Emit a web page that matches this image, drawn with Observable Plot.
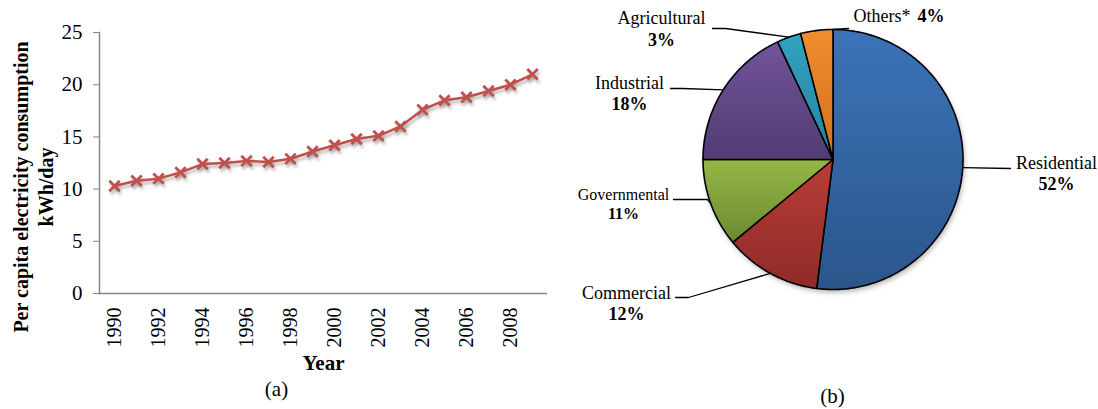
<!DOCTYPE html>
<html><head><meta charset="utf-8">
<script src="https://cdn.jsdelivr.net/npm/d3@7"></script>
<script src="https://cdn.jsdelivr.net/npm/@observablehq/plot@0.6"></script>
<style>
html,body{margin:0;padding:0;background:#fff;}
#wrap{position:relative;width:1098px;height:409px;overflow:hidden;background:#fff;}
#wrap svg{position:absolute;top:0;}
</style></head><body><div id="wrap"></div>
<script>
// ---------- data ----------
const years = [1990,1991,1992,1993,1994,1995,1996,1997,1998,1999,2000,2001,2002,2003,2004,2005,2006,2007,2008,2009];
const consumption = [10.3,10.8,11.0,11.6,12.4,12.5,12.7,12.6,12.9,13.6,14.2,14.8,15.1,16.0,17.6,18.5,18.8,19.4,20.0,21.0];
const yTicks = [0,5,10,15,20,25];
const xTickYears = [1990,1992,1994,1996,1998,2000,2002,2004,2006,2008];
const sectors = ["Residential","Commercial","Governmental","Industrial","Agricultural","Others*"];
const shares = [52,12,11,18,3,4];

// ---------- styles / layout ----------
const serif = "'Liberation Serif','Times New Roman',serif";
const lineColor = "#c0504d";
const shadowColor = "#7a7a79";
const sectorGradients = [
  ["#3b73b9","#2a568b"],
  ["#bb3c38","#8e2b28"],
  ["#95b747","#6b8a2f"],
  ["#71539b","#523c73"],
  ["#32a2c2","#25829c"],
  ["#f08d30","#d2701e"]
];
// label anchor + leader path (after rim point) in pie-panel pixels
const labelLayout = {
  "Residential":  {x:496, y:163, anchor:"middle", size:18, gap:20.5, at:"mid", leader:[[450,168]]},
  "Commercial":   {x:66,  y:293, anchor:"middle", size:18, gap:20.5, at:"mid", leader:[[128,297],[115,297]]},
  "Governmental": {x:63,  y:194, anchor:"middle", size:16, gap:19,   at:"mid", leader:[[147,199],[113,199]]},
  "Industrial":   {x:69,  y:83,  anchor:"middle", size:18, gap:21,   at:"mid", leader:[[122,88],[110,88]]},
  "Agricultural": {x:101, y:18,  anchor:"middle", size:18, gap:22,   at:"mid", leader:[[165,28],[152,28]]},
  "Others*":      {x:293, y:16,  anchor:"start",  size:18, gap:0,    at:"end", leader:[[288,28]], pctX:357}
};
const PIE = {cx:272.5, cy:159, r:130};

// ---------- (a) line chart ----------
const lineData = years.map((year,i)=>({year, value: consumption[i]}));
const lineChart = Plot.plot({
  width:560, height:409,
  marginLeft:99, marginRight:13, marginTop:32, marginBottom:116,
  style:{fontFamily:serif, fontSize:"20px", color:"#000", background:"transparent", overflow:"visible"},
  x:{type:"point", domain:years, padding:0.5, label:null},
  y:{domain:[0,25], label:null},
  marks:[
    Plot.frame({anchor:"left", stroke:"#868686", strokeWidth:1.5}),
    Plot.ruleY([0], {stroke:"#868686", strokeWidth:1.5}),
    Plot.axisY({ticks:yTicks, tickSize:6, tickPadding:11, stroke:"#868686", fill:"#000", fontSize:21, label:null, tickFormat:d=>String(d)}),
    Plot.axisX({ticks:xTickYears, tickSize:0, tickRotate:-90, tickPadding:14, fill:"#000", fontSize:20, label:null, tickFormat:d=>String(d)}),
    Plot.line(lineData, {x:"year", y:"value", stroke:shadowColor, strokeWidth:2.5, dx:1.5, dy:3}),
    Plot.dot(lineData, {x:"year", y:"value", symbol:"times", r:4.8, stroke:shadowColor, strokeWidth:2.8, dx:1.5, dy:3}),
    Plot.line(lineData, {x:"year", y:"value", stroke:lineColor, strokeWidth:2.5}),
    Plot.dot(lineData, {x:"year", y:"value", symbol:"times", r:4.8, stroke:lineColor, strokeWidth:2.8}),
    Plot.text(["Per capita electricity consumption\nkWh/day"], {frameAnchor:"left", textAnchor:"middle", text:d=>d, rotate:-90, dx:-67, dy:24, fontWeight:"bold", fontSize:20, lineHeight:1.22}),
    Plot.text(["Year"], {frameAnchor:"bottom", text:d=>d, dy:76, fontWeight:"bold", fontSize:21}),
    Plot.text(["(a)"], {frameAnchor:"bottom", text:d=>d, dx:-47, dy:102, fontSize:21})
  ]
});
lineChart.style.left = "0px";

// ---------- (b) pie chart ----------
const slices = d3.pie().sort(null).value(d=>d.share).startAngle(0).endAngle(2*Math.PI)(
  sectors.map((name,i)=>({name, share:shares[i]}))
);
const rim = a => [PIE.cx + PIE.r*Math.sin(a), PIE.cy - PIE.r*Math.cos(a)];
const polyData = [];
slices.forEach(s=>{
  const name = s.data.name;
  const n = Math.max(2, Math.ceil((s.endAngle-s.startAngle)/(Math.PI/180)));
  polyData.push({name, x:PIE.cx, y:PIE.cy});
  for (let k=0;k<=n;k++){
    const [x,y] = rim(s.startAngle + (s.endAngle-s.startAngle)*k/n);
    polyData.push({name, x, y});
  }
  polyData.push({name, x:PIE.cx, y:PIE.cy});
});
const outline = polyData.filter(d=>!(d.x===PIE.cx && d.y===PIE.cy));
const leaderData = [];
slices.forEach(s=>{
  const name = s.data.name;
  const L = labelLayout[name];
  const a = L.at === "end" ? s.endAngle : (s.startAngle+s.endAngle)/2;
  const [x0,y0] = rim(a);
  leaderData.push({name, x:x0, y:y0});
  L.leader.forEach(([x,y])=>leaderData.push({name, x, y}));
});
const nameRows = sectors.map(name=>{
  const L = labelLayout[name];
  return {name, x:L.x, y:L.y, anchor:L.anchor, size:L.size};
});
const pctRows = sectors.map((name,i)=>{
  const L = labelLayout[name];
  if (L.anchor === "start") return {pct:shares[i]+"%", x:L.pctX, y:L.y, anchor:"start", size:L.size};
  return {pct:shares[i]+"%", x:L.x, y:L.y + L.gap, anchor:"middle", size:L.size};
});

const pieChart = Plot.plot({
  width:538, height:409,
  margin:0,
  style:{fontFamily:serif, color:"#000", background:"transparent", overflow:"visible"},
  x:{domain:[0,538], range:[0,538], axis:null},
  y:{domain:[0,409], range:[0,409], axis:null},
  marks:[
    Plot.line(outline, {x:"x", y:"y", fill:shadowColor, fillOpacity:0.55, stroke:"none", dx:1.5, dy:3}),
    ...sectors.map((name,i)=>Plot.line(polyData.filter(d=>d.name===name), {
      x:"x", y:"y", fill:`url(#sectorGrad${i})`, stroke:"#000", strokeWidth:1.6, strokeLinejoin:"round"
    })),
    Plot.line(leaderData, {x:"x", y:"y", z:"name", stroke:"#000", strokeWidth:1.3}),
    Plot.text(nameRows.filter(d=>d.anchor==="middle"), {x:"x", y:"y", text:"name", textAnchor:"middle", fontSize:d=>d.size}),
    Plot.text(nameRows.filter(d=>d.anchor==="start"), {x:"x", y:"y", text:"name", textAnchor:"start", fontSize:d=>d.size}),
    Plot.text(pctRows.filter(d=>d.anchor==="middle"), {x:"x", y:"y", text:"pct", textAnchor:"middle", fontWeight:"bold", fontSize:d=>d.size}),
    Plot.text(pctRows.filter(d=>d.anchor==="start"), {x:"x", y:"y", text:"pct", textAnchor:"start", fontWeight:"bold", fontSize:d=>d.size}),
    Plot.text(["(b)"], {frameAnchor:"top-left", textAnchor:"middle", text:d=>d, dx:272, dy:388, fontSize:21})
  ]
});
pieChart.style.left = "560px";

// gradients + soft shadows
const pieDefs = d3.select(pieChart).insert("defs", ":first-child");
sectorGradients.forEach(([c1,c2],i)=>{
  const g = pieDefs.append("linearGradient").attr("id","sectorGrad"+i)
    .attr("x1",0).attr("y1",0).attr("x2",0).attr("y2",1);
  g.append("stop").attr("offset",0).attr("stop-color",c1);
  g.append("stop").attr("offset",1).attr("stop-color",c2);
});
pieDefs.append("filter").attr("id","pieBlur").attr("x","-20%").attr("y","-20%").attr("width","140%").attr("height","140%")
  .append("feGaussianBlur").attr("stdDeviation",2.5);
d3.select(pieChart).selectAll("g[fill='" + shadowColor + "']").attr("filter","url(#pieBlur)");

const lineDefs = d3.select(lineChart).insert("defs", ":first-child");
lineDefs.append("filter").attr("id","lineBlur").attr("x","-20%").attr("y","-20%").attr("width","140%").attr("height","140%")
  .append("feGaussianBlur").attr("stdDeviation",1.6);
d3.select(lineChart).selectAll("g[stroke='" + shadowColor + "']").attr("filter","url(#lineBlur)").attr("opacity",0.55);

const wrap = document.getElementById("wrap");
wrap.appendChild(lineChart);
wrap.appendChild(pieChart);
</script></body></html>
